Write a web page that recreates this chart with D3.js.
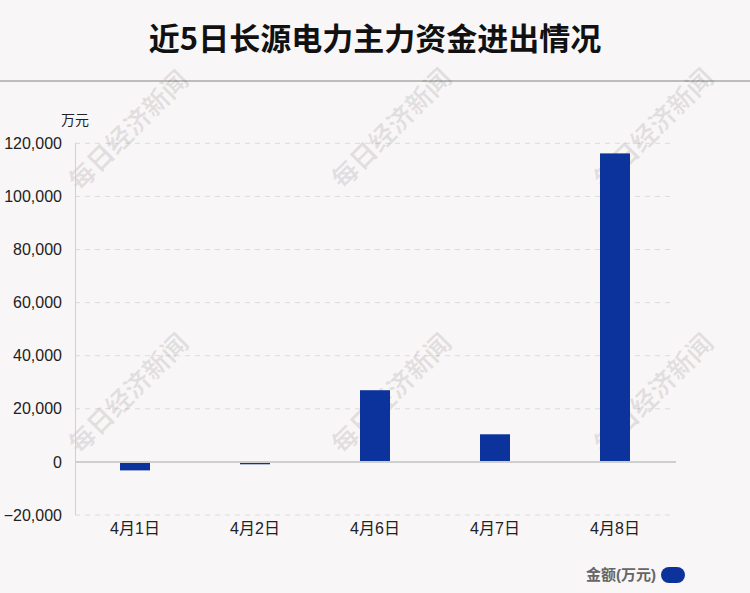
<!DOCTYPE html>
<html><head><meta charset="utf-8">
<script src="https://cdn.jsdelivr.net/npm/d3@7"></script>
<style>
html,body{margin:0;padding:0;background:#f9f6f7;}
svg{display:block;font-family:"Liberation Sans",Arial,"Noto Sans CJK SC",sans-serif;}
</style></head>
<body>
<svg id="c" width="750" height="593"></svg>
<script>
const categories = ["4月1日","4月2日","4月6日","4月7日","4月8日"];
const values = [-3200, -900, 27000, 10400, 116200];
const yTicks = [-20000, 0, 20000, 40000, 60000, 80000, 100000, 120000];
const title = "近5日长源电力主力资金进出情况";
const unit = "万元";
const legendLabel = "金额(万元)";
const watermark = "每日经济新闻";

const svg = d3.select("#c");
const W = 750, H = 593;
svg.append("rect").attr("width", W).attr("height", H).attr("fill", "#f9f6f7");

// title
svg.append("text").attr("x", 375).attr("y", 50).attr("text-anchor", "middle")
  .style("font-size", "31px").style("font-weight", "bold").attr("fill", "#111")
  .style("font-family", "'Noto Sans CJK SC',sans-serif").text(title);
svg.append("line").attr("x1", 0).attr("x2", W).attr("y1", 81).attr("y2", 81)
  .attr("stroke", "#bdbdbd").attr("stroke-width", 2);

const x = d3.scaleBand().domain(categories).range([75, 675]).paddingInner(0).paddingOuter(0);
const y = d3.scaleLinear().domain([-20000, 120000]).range([515, 143.3]);
const barW = 30;

// gridlines
const g = svg.append("g");
g.selectAll("line.grid").data(yTicks.filter(d => d !== 0)).join("line")
  .attr("x1", 75).attr("x2", 672).attr("y1", d => y(d)).attr("y2", d => y(d))
  .attr("stroke", "#dcdcdc").attr("stroke-dasharray", "5,5").attr("stroke-width", 1);

// watermarks
const wmPos = [[130,132],[393,130],[655,130],[130,395],[393,395],[655,395]];
svg.append("g").selectAll("text").data(wmPos).join("text")
  .attr("transform", d => `translate(${d[0]},${d[1]}) rotate(-45)`)
  .attr("text-anchor", "middle").attr("dominant-baseline", "middle")
  .style("font-size", "26px").style("font-weight", "bold")
  .style("font-family", "'Noto Sans CJK SC',sans-serif")
  .attr("fill", "#000").attr("fill-opacity", 0.09).text(watermark);

// axis
const yAxis = d3.axisLeft(y).tickValues(yTicks).tickSize(0).tickPadding(13)
  .tickFormat(d3.format(","));
const ya = svg.append("g").attr("transform", "translate(75,0)").call(yAxis);
ya.select(".domain").remove();
ya.selectAll("text").style("font-size", "16px").attr("fill", "#222")
  .style("font-family", "'Liberation Sans',Arial,sans-serif");
svg.append("line").attr("x1", 75.5).attr("x2", 75.5).attr("y1", 143).attr("y2", 515)
  .attr("stroke", "#d0d0d0");

svg.append("text").attr("x", 75).attr("y", 125).attr("text-anchor", "middle")
  .style("font-size", "14px").attr("fill", "#222").text(unit);

// bars
svg.append("g").selectAll("rect").data(values).join("rect")
  .attr("x", (d, i) => x(categories[i]) + x.bandwidth() / 2 - barW / 2)
  .attr("width", barW)
  .attr("y", d => y(Math.max(0, d)))
  .attr("height", d => Math.abs(y(d) - y(0)))
  .attr("fill", "#0c339b");

// zero line
svg.append("line").attr("x1", 75).attr("x2", 676).attr("y1", y(0)).attr("y2", y(0))
  .attr("stroke", "#cfcfcf").attr("stroke-width", 2);

// x labels
const xAxis = d3.axisBottom(x).tickSize(0).tickPadding(0);
const xa = svg.append("g").attr("transform", "translate(0,523)").call(xAxis);
xa.select(".domain").remove();
xa.selectAll("text").style("font-size", "16px").attr("fill", "#222").attr("dy", "0.71em")
  .style("font-family", "'Liberation Sans','Noto Sans CJK SC',sans-serif");

// legend
svg.append("text").attr("x", 656).attr("y", 580).attr("text-anchor", "end")
  .style("font-size", "15px").style("font-weight", "bold").attr("fill", "#666").text(legendLabel);
svg.append("rect").attr("x", 661).attr("y", 567).attr("width", 24).attr("height", 16)
  .attr("rx", 8).attr("ry", 8).attr("fill", "#0c339b");
</script>
</body></html>
